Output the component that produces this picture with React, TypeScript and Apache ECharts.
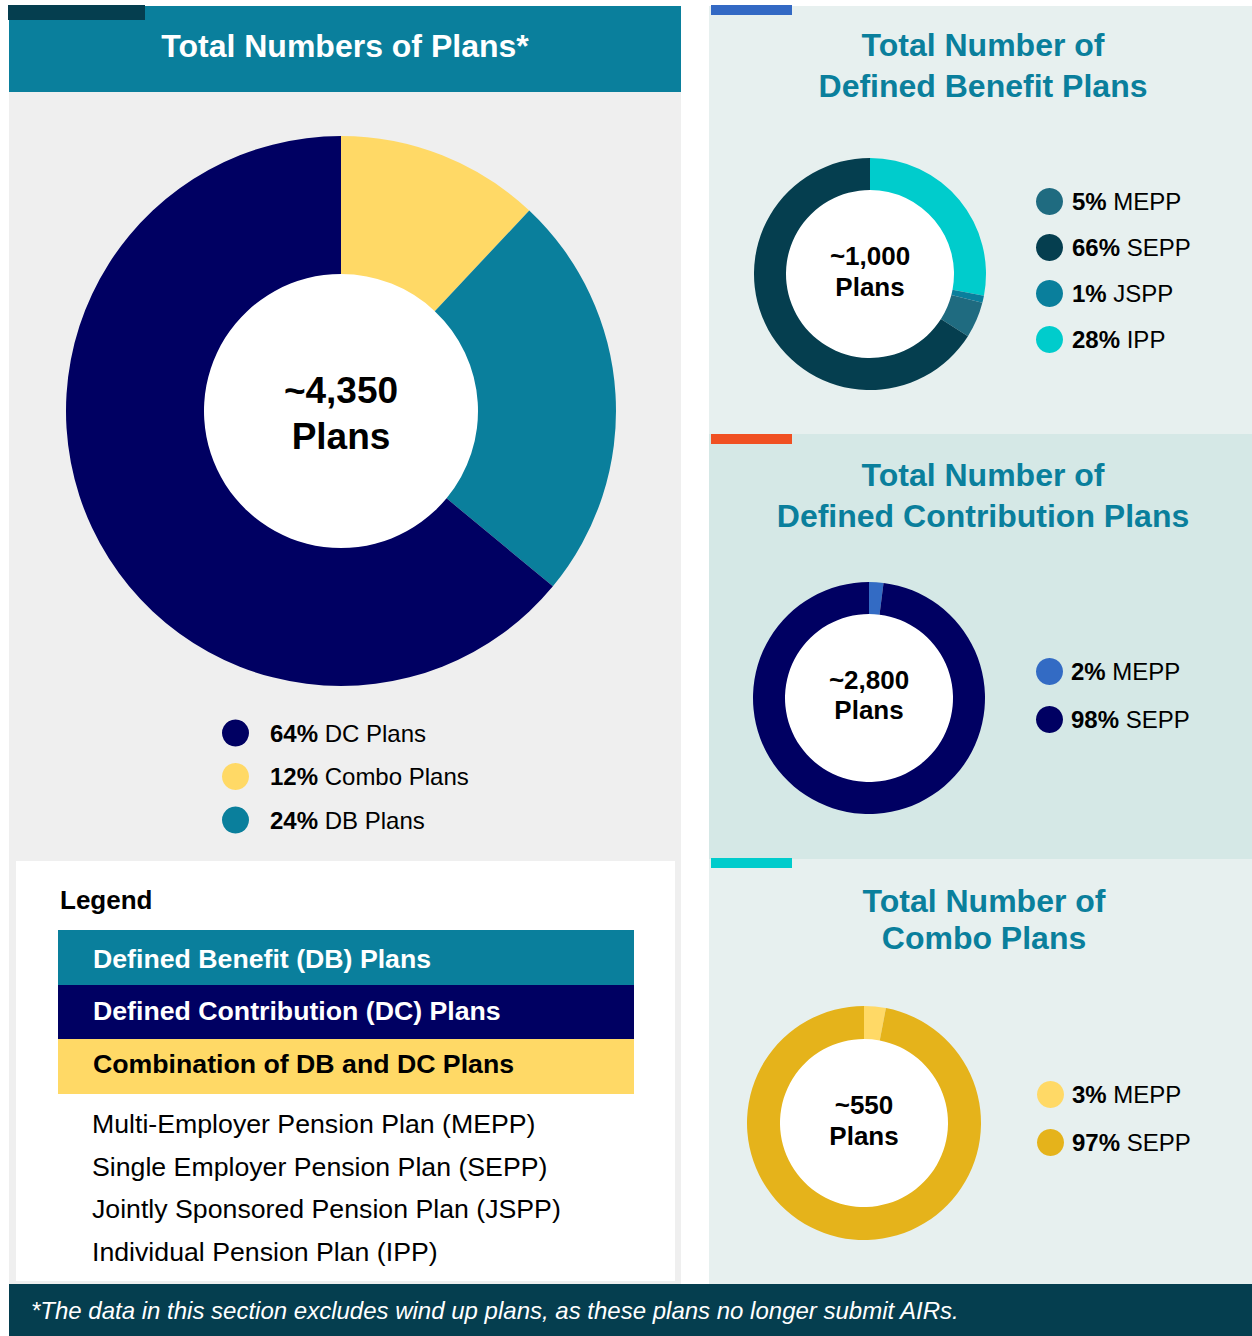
import React, { useEffect, useRef } from 'react';
import * as echarts from 'echarts';

const FONT = '"Liberation Sans", Arial, Helvetica, sans-serif';

// ---- Overall plan mix (clockwise from 12 o'clock) ----
const totalCategories = ['Combo Plans', 'DB Plans', 'DC Plans'];
const totalShares = [12, 24, 64];
const totalColors = ['#ffd966', '#0a7f9c', '#000062'];
const totalLegendOrder = ['DC Plans', 'Combo Plans', 'DB Plans'];
const totalCountLines = ['~4,350', 'Plans'];

// ---- Defined Benefit plans ----
const dbCategories = ['IPP', 'JSPP', 'MEPP', 'SEPP'];
const dbShares = [28, 1, 5, 66];
const dbColors = ['#00cccc', '#0a7f9c', '#1f6b80', '#053e4f'];
const dbLegendOrder = ['MEPP', 'SEPP', 'JSPP', 'IPP'];
const dbCountLines = ['~1,000', 'Plans'];

// ---- Defined Contribution plans ----
const dcCategories = ['MEPP', 'SEPP'];
const dcShares = [2, 98];
const dcColors = ['#336bc4', '#000062'];
const dcCountLines = ['~2,800', 'Plans'];

// ---- Combo plans ----
const comboCategories = ['MEPP', 'SEPP'];
const comboShares = [3, 97];
const comboColors = ['#ffd966', '#e5b31b'];
const comboCountLines = ['~550', 'Plans'];

// ---- Text ----
const mainTitle = 'Total Numbers of Plans*';
const dbTitle = ['Total Number of', 'Defined Benefit Plans'];
const dcTitle = ['Total Number of', 'Defined Contribution Plans'];
const comboTitle = ['Total Number of', 'Combo Plans'];
const legendHeading = 'Legend';
const legendBoxRows = ['Defined Benefit (DB) Plans', 'Defined Contribution (DC) Plans', 'Combination of DB and DC Plans'];
const legendBoxColors = ['#0a7f9c', '#000062', '#ffd966'];
const legendBoxTextColors = ['#ffffff', '#ffffff', '#000000'];
const planTypes = [
  'Multi-Employer Pension Plan (MEPP)',
  'Single Employer Pension Plan (SEPP)',
  'Jointly Sponsored Pension Plan (JSPP)',
  'Individual Pension Plan (IPP)',
];
const footnote = '*The data in this section excludes wind up plans, as these plans no longer submit AIRs.';

type PieDef = {
  id: string;
  cats: string[];
  shares: number[];
  colors: string[];
  legendOrder: string[];
  center: [number, number];
  radius: [number, number];
  countLines: string[];
  countSize: number;
  countYs: number[];
  legendLeft: number;
  legendTop: number;
  legendGap: number;
  spacer: number;
};

const pies: PieDef[] = [
  {
    id: 'total', cats: totalCategories, shares: totalShares, colors: totalColors, legendOrder: totalLegendOrder,
    center: [341, 411], radius: [137, 275], countLines: totalCountLines, countSize: 37, countYs: [390, 436],
    legendLeft: 222, legendTop: 719.5, legendGap: 16.5, spacer: 16,
  },
  {
    id: 'db', cats: dbCategories, shares: dbShares, colors: dbColors, legendOrder: dbLegendOrder,
    center: [870, 274], radius: [84, 116], countLines: dbCountLines, countSize: 26, countYs: [256, 287],
    legendLeft: 1036, legendTop: 188, legendGap: 19, spacer: 4,
  },
  {
    id: 'dc', cats: dcCategories, shares: dcShares, colors: dcColors, legendOrder: dcCategories,
    center: [869, 698], radius: [84, 116], countLines: dcCountLines, countSize: 26, countYs: [680, 710],
    legendLeft: 1036, legendTop: 658, legendGap: 21, spacer: 3,
  },
  {
    id: 'combo', cats: comboCategories, shares: comboShares, colors: comboColors, legendOrder: comboCategories,
    center: [864, 1123], radius: [84, 117], countLines: comboCountLines, countSize: 26, countYs: [1105, 1136],
    legendLeft: 1037, legendTop: 1081, legendGap: 21, spacer: 3,
  },
];

const key = (id: string, cat: string) => `${id}|${cat}`;

function txt(text: string, x: number, y: number, size: number, weight: string, color: string,
  align: string = 'center', italic = false) {
  return {
    type: 'text',
    silent: true,
    style: {
      text, x, y, fill: color,
      font: `${italic ? 'italic' : 'normal'} ${weight} ${size}px ${FONT}`,
      align, verticalAlign: 'middle',
      textAlign: align, textVerticalAlign: 'middle',
    },
  };
}

function rect(x: number, y: number, w: number, h: number, fill: string) {
  return { type: 'rect', silent: true, shape: { x, y, width: w, height: h }, style: { fill } };
}

function buildOption() {
  const graphics: any[] = [];
  // Backgrounds
  graphics.push(rect(9, 6, 672, 1280, '#efefef'));
  graphics.push(rect(9, 6, 672, 86, '#0a7f9c'));
  graphics.push(rect(8, 5, 137, 15, '#053e4f'));
  graphics.push(rect(709, 6, 543, 428, '#e7f0ef'));
  graphics.push(rect(709, 434, 543, 425, '#d5e8e6'));
  graphics.push(rect(709, 859, 543, 427, '#e7f0ef'));
  graphics.push(rect(711, 5, 81, 10, '#3369c4'));
  graphics.push(rect(711, 434, 81, 10, '#f05022'));
  graphics.push(rect(711, 858, 81, 10, '#00cccc'));
  graphics.push(rect(16, 861, 659, 420, '#ffffff'));
  graphics.push(rect(9, 1284, 1243, 52, '#053e4f'));

  // Titles
  graphics.push(txt(mainTitle, 345, 46, 32, 'bold', '#ffffff'));
  graphics.push(txt(dbTitle[0], 983, 45, 32, 'bold', '#0a7f9c'));
  graphics.push(txt(dbTitle[1], 983, 85.5, 32, 'bold', '#0a7f9c'));
  graphics.push(txt(dcTitle[0], 983, 475, 32, 'bold', '#0a7f9c'));
  graphics.push(txt(dcTitle[1], 983, 515.5, 32, 'bold', '#0a7f9c'));
  graphics.push(txt(comboTitle[0], 984, 901, 32, 'bold', '#0a7f9c'));
  graphics.push(txt(comboTitle[1], 984, 937.5, 32, 'bold', '#0a7f9c'));

  // Donut holes and center counts
  pies.forEach((p) => {
    graphics.push({
      type: 'circle', silent: true,
      shape: { cx: p.center[0], cy: p.center[1], r: p.radius[0] + 1 },
      style: { fill: '#ffffff' },
    });
    p.countLines.forEach((line, i) => {
      graphics.push(txt(line, p.center[0], p.countYs[i], p.countSize, 'bold', '#000000'));
    });
  });

  // Legend box
  graphics.push(txt(legendHeading, 60, 900, 26, 'bold', '#000000', 'left'));
  const rowTops = [930, 985, 1039];
  const rowHeights = [55, 54, 55];
  const rowTextYs = [958.5, 1010.5, 1064];
  legendBoxRows.forEach((row, i) => {
    graphics.push(rect(58, rowTops[i], 576, rowHeights[i], legendBoxColors[i]));
    graphics.push(txt(row, 93, rowTextYs[i], 26.7, 'bold', legendBoxTextColors[i], 'left'));
  });
  const planYs = [1123.5, 1166.5, 1209, 1251.5];
  planTypes.forEach((pt, i) => {
    graphics.push(txt(pt, 92, planYs[i], 26.7, 'normal', '#000000', 'left'));
  });

  // Footnote
  graphics.push(txt(footnote, 31, 1310, 24, 'normal', '#ffffff', 'left', true));

  const series = pies.map((p) => ({
    type: 'pie',
    name: p.id,
    center: p.center,
    radius: p.radius,
    startAngle: 90,
    clockwise: true,
    silent: true,
    z: 3,
    label: { show: false },
    labelLine: { show: false },
    emphasis: { disabled: true },
    itemStyle: { borderWidth: 0 },
    data: p.cats.map((c, i) => ({
      name: key(p.id, c),
      value: p.shares[i],
      itemStyle: { color: p.colors[i], borderWidth: 0 },
    })),
  }));

  const legends = pies.map((p) => ({
    orient: 'vertical',
    left: p.legendLeft,
    top: p.legendTop,
    padding: 0,
    itemWidth: 27,
    itemHeight: 27,
    itemGap: p.legendGap,
    icon: 'circle',
    selectedMode: false,
    itemStyle: { borderWidth: 0 },
    data: p.legendOrder.map((c) => key(p.id, c)),
    formatter: (name: string) => {
      const cat = name.split('|')[1];
      const share = p.shares[p.cats.indexOf(cat)];
      return `{sp| }{b|${share}%}{r| ${cat}}`;
    },
    textStyle: {
      fontSize: 24,
      fontFamily: FONT,
      color: '#000000',
      rich: {
        sp: { width: p.spacer, fontSize: 24, lineHeight: 27 },
        b: { fontWeight: 'bold', fontSize: 24, fontFamily: FONT, color: '#000000', lineHeight: 27 },
        r: { fontWeight: 'normal', fontSize: 24, fontFamily: FONT, color: '#000000', lineHeight: 27 },
      },
    },
  }));

  return {
    animation: false,
    backgroundColor: '#ffffff',
    graphic: { elements: graphics },
    legend: legends,
    series,
  };
}

export default function App() {
  const ref = useRef<HTMLDivElement>(null);
  useEffect(() => {
    if (!ref.current) return;
    const chart = echarts.init(ref.current, null, { renderer: 'svg', width: 1252, height: 1336 });
    chart.setOption(buildOption() as any);
    return () => chart.dispose();
  }, []);
  return (
    <div
      ref={ref}
      style={{ position: 'absolute', left: 0, top: 0, width: 1252, height: 1336, background: '#ffffff' }}
    />
  );
}
